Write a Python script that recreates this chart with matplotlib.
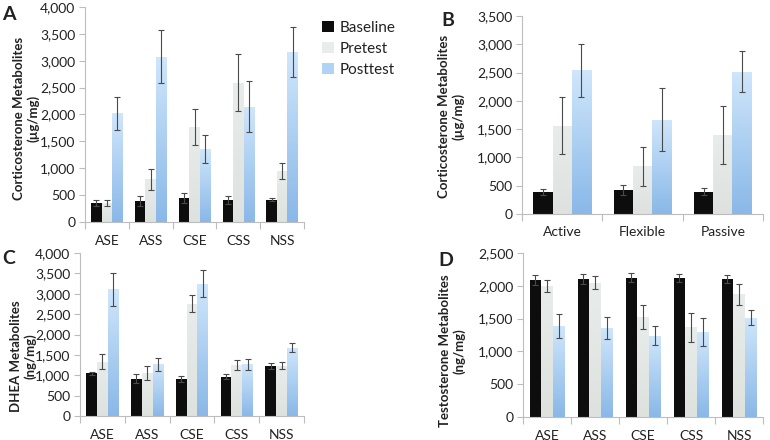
import numpy as np
import matplotlib
matplotlib.use("Agg")
import matplotlib.pyplot as plt
from matplotlib.patches import Patch

plt.rcParams["font.family"] = ["Lato", "DejaVu Sans"]

# Data
# -------------------------------------------------------------------
series = ["Baseline", "Pretest", "Posttest"]

groups_5 = ["ASE", "ASS", "CSE", "CSS", "NSS"]
groups_3 = ["Active", "Flexible", "Passive"]

# A: corticosterone by group
a_base = [360, 385, 447, 404, 416]
a_pre = [360, 795, 1770, 2590, 950]
a_post = [2020, 3075, 1355, 2145, 3155]
a_base_err = [55, 90, 95, 75, 30]
a_pre_err = [55, 200, 340, 530, 155]
a_post_err = [310, 490, 255, 475, 465]

# B: corticosterone by coping style
b_base = [390, 425, 390]
b_pre = [1560, 845, 1390]
b_post = [2540, 1670, 2515]
b_base_err = [52, 82, 62]
b_pre_err = [505, 345, 515]
b_post_err = [465, 555, 360]

# C: DHEA by group
c_base = [1045, 915, 900, 965, 1225]
c_pre = [1335, 1060, 2760, 1255, 1235]
c_post = [3110, 1265, 3250, 1265, 1670]
c_base_err = [40, 105, 70, 55, 65]
c_pre_err = [175, 170, 205, 115, 80]
c_post_err = [400, 170, 325, 130, 110]

# D: testosterone by group
d_base = [2085, 2100, 2125, 2125, 2100]
d_pre = [1995, 2045, 1525, 1370, 1870]
d_post = [1390, 1360, 1240, 1295, 1515]
d_base_err = [75, 75, 70, 60, 60]
d_pre_err = [95, 100, 185, 220, 165]
d_post_err = [180, 165, 140, 210, 115]

# Style
# -------------------------------------------------------------------
W, H = 770, 440
fig = plt.figure(figsize=(W / 100, H / 100), dpi=100)

AXIS_GRAY = "#bdbdbd"
TXT = "#222222"
BASE_C = "#0d0d0d"
PRE_TOP, PRE_BOT = "#e8ecea", "#dde2df"
POST_TOP, POST_BOT = "#cfe6fb", "#8ab8e8"


def px_axes(left, top, right, bottom):
    return fig.add_axes([left / W, 1 - bottom / H, (right - left) / W, (bottom - top) / H])


def gradient_bar(ax, bar, top_c, bot_c):
    x0, y0 = bar.get_x(), bar.get_y()
    w, h = bar.get_width(), bar.get_height()
    c1 = np.array(matplotlib.colors.to_rgb(top_c))
    c2 = np.array(matplotlib.colors.to_rgb(bot_c))
    t = np.linspace(0, 1, 64)[:, None]
    img = (c1 * (1 - t) + c2 * t)[:, None, :]
    im = ax.imshow(img, extent=(x0, x0 + w, y0, y0 + h), origin="upper",
                   aspect="auto", zorder=bar.get_zorder(), interpolation="bilinear")
    im.set_clip_path(bar)
    bar.set_facecolor("none")


def draw_panel(ax, cats, base, pre, post, errs, ymax, ystep):
    x = np.arange(len(cats))
    bw = 0.24
    ekw = dict(ecolor="#4a4a4a", elinewidth=0.8, capsize=2, capthick=0.8)
    ax.bar(x - bw, base, bw, color=BASE_C, zorder=2)
    ax.errorbar(x - bw, base, yerr=errs[0], fmt="none", zorder=4, **ekw)
    pb = ax.bar(x, pre, bw, color=PRE_BOT, zorder=2)
    pp = ax.bar(x + bw, post, bw, color=POST_BOT, zorder=2)
    ax.errorbar(x, pre, yerr=errs[1], fmt="none", zorder=4, **ekw)
    ax.errorbar(x + bw, post, yerr=errs[2], fmt="none", zorder=4, **ekw)
    ax.set_xlim(-0.5, len(cats) - 0.5)
    ax.set_ylim(0, ymax)
    for b in pb:
        gradient_bar(ax, b, PRE_TOP, PRE_BOT)
    for b in pp:
        gradient_bar(ax, b, POST_TOP, POST_BOT)

    ax.set_yticks(np.arange(0, ymax + 1, ystep))
    ax.set_yticklabels([f"{v:,}" for v in np.arange(0, ymax + 1, ystep)])
    ax.set_xticks(x)
    ax.set_xticklabels(cats)
    ax.set_xticks(np.arange(-0.5, len(cats)), minor=True)
    ax.tick_params(axis="x", which="major", length=0, pad=9, labelsize=10, colors=TXT)
    ax.tick_params(axis="x", which="minor", length=5, color=AXIS_GRAY, width=0.8)
    ax.tick_params(axis="y", length=4, width=0.8, labelsize=10, pad=3,
                   colors=AXIS_GRAY, labelcolor=TXT)
    for s in ["top", "right"]:
        ax.spines[s].set_visible(False)
    for s in ["left", "bottom"]:
        ax.spines[s].set_color(AXIS_GRAY)
        ax.spines[s].set_linewidth(0.8)


axA = px_axes(85, 7, 304, 222)
draw_panel(axA, groups_5, a_base, a_pre, a_post,
           (a_base_err, a_pre_err, a_post_err), 4000, 500)
axB = px_axes(522, 16, 763, 214)
draw_panel(axB, groups_3, b_base, b_pre, b_post,
           (b_base_err, b_pre_err, b_post_err), 3500, 500)
axC = px_axes(80, 253, 304, 416)
draw_panel(axC, groups_5, c_base, c_pre, c_post,
           (c_base_err, c_pre_err, c_post_err), 4000, 500)
axD = px_axes(523, 253, 763, 417)
draw_panel(axD, groups_5, d_base, d_pre, d_post,
           (d_base_err, d_pre_err, d_post_err), 2500, 500)

# y labels and panel letters
ylab = dict(rotation=90, ha="center", va="center", fontsize=9.5,
            fontweight="bold", color=TXT, multialignment="center")
fig.text(26 / W, 1 - 118 / H, "Corticosterone Metabolites\n(µg/mg)", **ylab)
fig.text(451 / W, 1 - 116 / H, "Corticosterone Metabolites\n(µg/mg)", **ylab)
fig.text(23 / W, 1 - 356 / H, "DHEA Metabolites\n(ng/mg)", **ylab)
fig.text(452 / W, 1 - 351 / H, "Testosterone Metabolites\n(ng/mg)", **ylab)

let = dict(fontsize=14, fontweight="bold", color=TXT, ha="center", va="center")
fig.text(9 / W, 1 - 15 / H, "A", **let)
fig.text(448 / W, 1 - 21 / H, "B", **let)
fig.text(9 / W, 1 - 259 / H, "C", **let)
fig.text(446 / W, 1 - 260 / H, "D", **let)

# legend
handles = [Patch(facecolor=BASE_C), Patch(facecolor=PRE_TOP), Patch(facecolor="#b0d3f5")]
fig.legend(handles, series, loc="upper left", bbox_to_anchor=(308 / W, 1 - 7 / H),
           frameon=False, fontsize=11, handlelength=0.8, handleheight=0.8,
           handletextpad=0.4, labelspacing=0.45, labelcolor=TXT)

fig.savefig("out.png", dpi=100)
